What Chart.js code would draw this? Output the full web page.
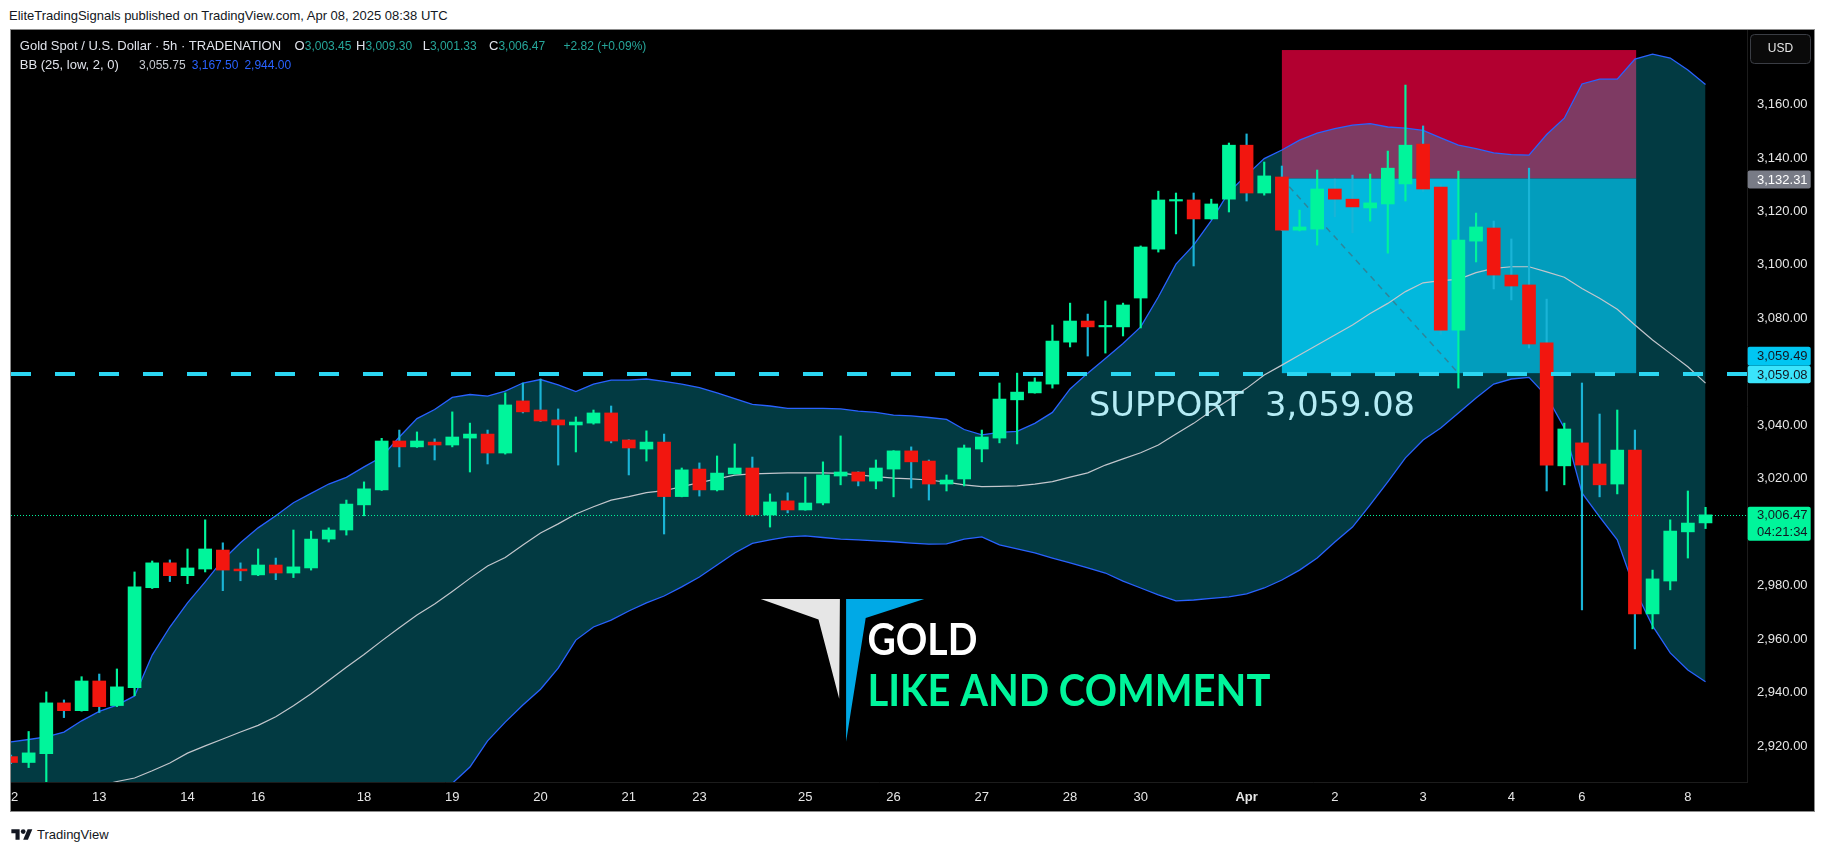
<!DOCTYPE html>
<html>
<head>
<meta charset="utf-8">
<title>Gold Spot / U.S. Dollar 5h</title>
<script src="https://cdn.jsdelivr.net/npm/chart.js@4.4.1/dist/chart.umd.min.js"></script>
<style>
  body { margin: 0; background: #fff; width: 1826px; height: 852px; position: relative; overflow: hidden; font-family: "Liberation Sans", Arial, sans-serif; }
  #header { position: absolute; left: 9px; top: 8px; font-size: 13px; line-height: 16px; color: #131722; }
  #frame { position: absolute; left: 10px; top: 29px; width: 1803px; height: 781px; border: 1px solid #8c8c8c; background: #000; }
  #footer { position: absolute; left: 11px; top: 826px; height: 16px; font-size: 13px; color: #131722; display: flex; align-items: center; }
  #footer svg { margin-right: 4px; }
</style>
</head>
<body>
<div id="header">EliteTradingSignals published on TradingView.com, Apr 08, 2025 08:38 UTC</div>
<div id="frame"><canvas id="goldChart" width="1803" height="781"></canvas></div>
<div id="footer">
  <svg width="22" height="13" viewBox="0 0 36 22"><path d="M14 20H7V9H0V2h14v18z" fill="#131722"/><circle cx="20" cy="6" r="4" fill="#131722"/><path d="M28 20h-8l7.5-18h8z" fill="#131722"/></svg>
  <span>TradingView</span>
</div>
<script>
// 5h candles, Mar 12 -> Apr 8 2025
const opens = [2916.0, 2913.8, 2917.1, 2936.1, 2933.2, 2944.3, 2935.1, 2941.8, 2979.2, 2988.5,
  2983.7, 2986.2, 2993.3, 2986.2, 2984.0, 2987.7, 2984.7, 2986.6, 2997.4, 3000.8,
  3010.2, 3015.8, 3034.1, 3031.9, 3033.7, 3032.6, 3035.2, 3036.7, 3029.6, 3049.1,
  3045.7, 3042.0, 3040.1, 3040.8, 3044.6, 3034.5, 3031.1, 3033.7, 3013.3, 3023.6,
  3015.8, 3021.8, 3024.0, 3006.4, 3011.7, 3008.3, 3010.9, 3021.0, 3022.5, 3019.1,
  3023.6, 3030.4, 3026.6, 3018.0, 3019.9, 3031.1, 3035.2, 3049.5, 3052.1, 3055.4,
  3071.1, 3079.0, 3076.8, 3076.8, 3087.6, 3105.9, 3123.9, 3124.3, 3117.2, 3124.6,
  3144.8, 3126.9, 3132.9, 3113.0, 3113.4, 3128.4, 3124.6, 3121.3, 3122.8, 3130.3,
  3145.2, 3129.1, 3075.6, 3108.9, 3113.8, 3096.2, 3092.5, 3070.8, 3024.8, 3033.4,
  3025.5, 3018.0, 3030.7, 2969.4, 2981.7, 3000.1, 3003.45];
const highs = [2916.6, 2925.4, 2940.2, 2937.2, 2945.9, 2946.9, 2948.8, 2985.1, 2989.2, 2989.6,
  2993.7, 3004.6, 2996.0, 2988.5, 2993.7, 2990.3, 3000.8, 3000.4, 3001.6, 3012.0,
  3018.8, 3035.1, 3038.2, 3037.5, 3034.9, 3045.0, 3040.8, 3038.2, 3052.1, 3055.8,
  3057.3, 3046.1, 3043.1, 3045.7, 3047.2, 3034.6, 3037.9, 3036.7, 3024.0, 3025.9,
  3028.5, 3033.0, 3028.1, 3014.3, 3014.7, 3020.6, 3026.3, 3036.0, 3022.6, 3027.0,
  3030.5, 3031.9, 3027.0, 3021.4, 3032.6, 3038.2, 3055.8, 3059.5, 3057.7, 3077.5,
  3085.7, 3081.6, 3086.5, 3085.7, 3107.1, 3127.6, 3126.9, 3126.9, 3124.6, 3145.6,
  3149.0, 3138.5, 3137.0, 3120.5, 3135.5, 3132.1, 3133.6, 3134.0, 3142.6, 3167.3,
  3152.0, 3130.0, 3135.1, 3119.4, 3116.4, 3109.7, 3136.2, 3087.2, 3040.8, 3055.8,
  3044.2, 3045.7, 3038.2, 2985.8, 3004.6, 3015.4, 3009.30];
const lows = [2913.4, 2911.9, 2905.0, 2930.6, 2933.0, 2932.5, 2934.7, 2938.8, 2978.9, 2981.5,
  2980.7, 2985.1, 2978.1, 2981.8, 2983.7, 2982.2, 2983.0, 2985.8, 2996.3, 2998.9,
  3006.1, 3015.6, 3024.4, 3031.7, 3027.0, 3031.9, 3022.5, 3025.5, 3029.2, 3044.6,
  3041.4, 3025.1, 3030.0, 3040.4, 3033.4, 3021.4, 3026.6, 2999.3, 3013.2, 3013.5,
  3015.4, 3021.7, 3006.0, 3001.9, 3007.2, 3008.2, 3010.2, 3017.7, 3017.3, 3016.2,
  3013.2, 3016.5, 3012.0, 3015.4, 3017.3, 3026.3, 3033.4, 3033.0, 3052.0, 3053.9,
  3069.3, 3065.9, 3067.0, 3073.4, 3076.4, 3104.8, 3111.6, 3099.6, 3117.1, 3119.8,
  3123.9, 3126.1, 3112.9, 3112.7, 3107.4, 3118.0, 3112.0, 3116.4, 3104.4, 3123.9,
  3127.5, 3074.0, 3053.9, 3101.1, 3091.0, 3086.9, 3068.9, 3015.4, 3017.7, 2970.9,
  3013.2, 3014.3, 2956.3, 2963.8, 2978.4, 2990.3, 3001.33];
const closes = [2913.8, 2917.4, 2936.1, 2933.2, 2944.3, 2934.7, 2942.1, 2979.5, 2988.5, 2983.7,
  2986.6, 2993.7, 2985.8, 2985.5, 2987.7, 2984.7, 2987.0, 2997.4, 3000.8, 3010.5,
  3016.2, 3034.1, 3031.9, 3034.1, 3032.6, 3035.6, 3036.7, 3029.6, 3047.6, 3045.0,
  3041.6, 3040.1, 3041.2, 3044.6, 3034.1, 3031.5, 3033.7, 3013.3, 3023.3, 3015.8,
  3022.1, 3024.0, 3006.4, 3011.3, 3008.3, 3010.9, 3021.4, 3022.5, 3019.1, 3024.0,
  3030.4, 3026.3, 3018.0, 3019.5, 3031.5, 3035.6, 3049.8, 3052.4, 3056.2, 3071.5,
  3079.0, 3076.8, 3077.2, 3085.0, 3106.7, 3124.3, 3124.3, 3117.2, 3122.8, 3144.8,
  3126.9, 3133.3, 3113.0, 3114.2, 3128.4, 3124.6, 3121.7, 3123.2, 3136.2, 3144.8,
  3128.4, 3075.6, 3109.3, 3114.2, 3096.2, 3092.1, 3070.4, 3025.1, 3038.6, 3025.1,
  3017.7, 3030.7, 2969.4, 2982.5, 3000.4, 3003.4, 3006.47];

// BB (25, low, 2, 0)
const bbUpper = [2921.5, 2922.4, 2923.4, 2925.2, 2929.4, 2932.9, 2935.3, 2938.7, 2954.0, 2964.5,
  2973.5, 2981.4, 2989.6, 2996.0, 3001.6, 3006.1, 3011.0, 3014.5, 3018.0, 3020.5,
  3024.4, 3028.1, 3035.6, 3042.5, 3045.9, 3050.4, 3051.5, 3050.9, 3052.8, 3055.8,
  3057.1, 3055.1, 3052.6, 3055.4, 3056.9, 3056.9, 3057.3, 3056.4, 3055.4, 3054.1,
  3052.1, 3050.0, 3047.8, 3047.2, 3046.3, 3046.3, 3046.3, 3046.1, 3045.3, 3044.8,
  3043.8, 3043.5, 3042.9, 3042.2, 3038.4, 3036.4, 3037.3, 3037.7, 3040.7, 3044.8,
  3053.6, 3059.5, 3065.0, 3070.6, 3076.8, 3088.0, 3100.3, 3107.4, 3116.6, 3127.3,
  3133.6, 3139.8, 3143.0, 3146.7, 3149.3, 3151.0, 3152.3, 3152.9, 3151.6, 3151.2,
  3150.3, 3147.5, 3144.8, 3143.5, 3141.9, 3141.3, 3141.1, 3148.8, 3154.9, 3167.7,
  3169.5, 3169.5, 3177.0, 3178.9, 3177.4, 3172.9, 3167.5];
const bbMiddle = [2898.0, 2899.0, 2900.5, 2902.0, 2903.5, 2905.0, 2906.7, 2908.0, 2910.7, 2913.6,
  2917.3, 2920.0, 2922.6, 2925.2, 2927.7, 2930.9, 2935.0, 2939.5, 2944.5, 2949.4,
  2954.2, 2959.3, 2964.2, 2969.0, 2973.1, 2977.8, 2982.7, 2987.3, 2990.5, 2995.2,
  2999.7, 3003.1, 3006.8, 3009.5, 3012.0, 3013.3, 3014.8, 3015.5, 3017.0, 3018.5,
  3019.9, 3021.3, 3021.8, 3022.0, 3022.2, 3022.2, 3022.2, 3022.0, 3021.4, 3020.8,
  3020.2, 3019.9, 3019.5, 3018.7, 3017.7, 3017.0, 3017.1, 3017.3, 3018.0, 3018.9,
  3020.6, 3022.2, 3025.1, 3027.4, 3029.7, 3032.6, 3036.7, 3040.7, 3045.3, 3049.5,
  3053.8, 3058.8, 3062.5, 3066.3, 3070.0, 3073.8, 3077.5, 3081.8, 3085.6, 3090.0,
  3093.3, 3094.1, 3094.6, 3097.1, 3098.7, 3099.3, 3099.3, 3097.4, 3095.4, 3091.2,
  3087.5, 3083.4, 3077.5, 3071.9, 3066.9, 3061.9, 3055.75];
const bbLower = [2874.5, 2875.6, 2877.6, 2878.8, 2877.6, 2877.1, 2878.1, 2877.3, 2867.4, 2862.7,
  2861.1, 2858.6, 2855.6, 2854.4, 2853.8, 2855.7, 2859.0, 2864.5, 2871.0, 2878.3,
  2884.0, 2890.5, 2892.8, 2895.5, 2900.3, 2906.0, 2912.1, 2921.9, 2928.9, 2935.3,
  2941.2, 2949.1, 2959.6, 2964.5, 2967.1, 2970.5, 2973.5, 2976.1, 2979.5, 2983.2,
  2987.7, 2992.2, 2995.8, 2997.1, 2998.2, 2998.6, 2998.0, 2997.4, 2997.1, 2996.7,
  2996.4, 2995.9, 2995.5, 2995.6, 2997.4, 2998.2, 2995.2, 2993.7, 2992.2, 2990.3,
  2988.5, 2986.6, 2984.7, 2981.7, 2979.1, 2976.5, 2974.3, 2974.6, 2975.2, 2975.8,
  2976.9, 2979.1, 2982.1, 2985.8, 2990.3, 2996.3, 3001.9, 3010.2, 3018.8, 3027.8,
  3034.5, 3039.0, 3044.6, 3050.2, 3055.4, 3057.3, 3057.9, 3050.9, 3039.0, 3014.7,
  3005.7, 2997.1, 2978.4, 2964.9, 2954.8, 2948.4, 2944.0];

const xTickIdx = [0, 5, 10, 14, 20, 25, 30, 35, 39, 45, 50, 55, 60, 64, 70, 75, 80, 85, 89, 95];
const xTickLabels = ["12", "13", "14", "16", "18", "19", "20", "21", "23", "25", "26", "27", "28", "30", "Apr", "2", "3", "4", "6", "8"];
const yTicks = [2920, 2940, 2960, 2980, 3000, 3020, 3040, 3060, 3080, 3100, 3120, 3140, 3160];

// short position drawing + support level
const posStartIdx = 72;
const posExitIdx = 82;
const posEndIdx = 92.07;
const posStop = 3180.4;
const posEntry = 3132.31;
const posTarget = 3059.49;
const supportLevel = 3059.08;
const lastPrice = 3006.47;
const countdown = "04:21:34";

const green = '#00f59b';
const red = '#f2160f';
const redWick = '#1ab4d6';
const fmt = v => v.toLocaleString('en-US', { minimumFractionDigits: 2, maximumFractionDigits: 2 });

const idx = opens.map((_, i) => i);
const isUp = i => closes[i] >= opens[i];

function fitText(ctx, text, x, y, width) {
  const w = ctx.measureText(text).width;
  ctx.save();
  ctx.translate(x, y);
  ctx.scale(width / w, 1);
  ctx.fillText(text, 0, 0);
  ctx.restore();
}

const positionTool = {
  id: 'positionTool',
  beforeDatasetsDraw(chart) {
    const { ctx, chartArea, scales: { x, y } } = chart;
    const x0 = x.getPixelForValue(posStartIdx);
    const xe = x.getPixelForValue(posExitIdx);
    const x1 = x.getPixelForValue(posEndIdx);
    const yS = y.getPixelForValue(posStop);
    const yE = y.getPixelForValue(posEntry);
    const yT = y.getPixelForValue(posTarget);
    ctx.save();
    ctx.beginPath();
    ctx.rect(chartArea.left, chartArea.top, chartArea.width, chartArea.height);
    ctx.clip();
    ctx.fillStyle = '#b20030';
    ctx.fillRect(x0, yS, x1 - x0, yE - yS);
    ctx.fillStyle = '#00b5df';
    ctx.fillRect(x0, yE, xe - x0, yT - yE);
    ctx.fillStyle = '#008fb0';
    ctx.fillRect(xe, yE, x1 - xe, yT - yE);
    ctx.strokeStyle = 'rgba(70,100,115,0.9)';
    ctx.lineWidth = 1.5;
    ctx.setLineDash([6, 5]);
    ctx.beginPath();
    ctx.moveTo(x0, yE);
    ctx.lineTo(xe, yT);
    ctx.stroke();
    ctx.restore();
  }
};

const overlay = {
  id: 'overlay',
  afterDatasetsDraw(chart) {
    const { ctx, chartArea, scales: { y } } = chart;
    ctx.save();
    ctx.beginPath();
    ctx.rect(chartArea.left, chartArea.top, chartArea.width, chartArea.height);
    ctx.clip();

    // support line
    const ySup = Math.round(y.getPixelForValue(supportLevel));
    ctx.strokeStyle = '#2bd6f2';
    ctx.lineWidth = 4;
    ctx.setLineDash([20, 24]);
    ctx.beginPath();
    ctx.moveTo(chartArea.left, ySup);
    ctx.lineTo(chartArea.right, ySup);
    ctx.stroke();

    // last price
    const yLast = Math.round(y.getPixelForValue(lastPrice)) + 0.5;
    ctx.strokeStyle = green;
    ctx.lineWidth = 1;
    ctx.setLineDash([1, 2]);
    ctx.beginPath();
    ctx.moveTo(chartArea.left, yLast);
    ctx.lineTo(chartArea.right, yLast);
    ctx.stroke();
    ctx.setLineDash([]);

    ctx.fillStyle = '#b5ecf5';
    ctx.font = '34px "DejaVu Sans"';
    ctx.textBaseline = 'alphabetic';
    fitText(ctx, 'SUPPORT  3,059.08', 1078, 386, 326);

    // logo
    ctx.fillStyle = '#e6e6e6';
    ctx.beginPath();
    ctx.moveTo(749.7, 568.9); ctx.lineTo(828.9, 568.9); ctx.lineTo(828.2, 668.8); ctx.lineTo(807.5, 589.6);
    ctx.closePath();
    ctx.fill();
    ctx.fillStyle = '#00a9e6';
    ctx.beginPath();
    ctx.moveTo(835.1, 568.9); ctx.lineTo(913.2, 568.9); ctx.lineTo(854.7, 587.9); ctx.lineTo(835.1, 711.8);
    ctx.closePath();
    ctx.fill();
    ctx.fillStyle = '#ffffff';
    ctx.font = 'bold 43px Lato';
    fitText(ctx, 'GOLD', 856.4, 625, 110);
    ctx.fillStyle = green;
    ctx.font = 'bold 43px Lato';
    fitText(ctx, 'LIKE AND COMMENT', 856.4, 675.7, 403);
    ctx.restore();

    // legend
    ctx.save();
    ctx.textBaseline = 'middle';
    const seg = (t, x, yy, c, size) => {
      ctx.font = size + 'px "Liberation Sans"';
      ctx.fillStyle = c;
      ctx.fillText(t, x, yy);
      return x + ctx.measureText(t).width;
    };
    const w = '#e0e3eb', teal = '#26a69a';
    const last = opens.length - 1;
    seg('Gold Spot / U.S. Dollar \u00b7 5h \u00b7 TRADENATION', 8.8, 16.6, w, 13);
    seg(fmt(opens[last]), seg('O', 283.6, 16.6, w, 13), 16.6, teal, 12);
    seg(fmt(highs[last]), seg('H', 345, 16.6, w, 13), 16.6, teal, 12);
    seg(fmt(lows[last]), seg('L', 411.7, 16.6, w, 13), 16.6, teal, 12);
    seg(fmt(lastPrice), seg('C', 478, 16.6, w, 13), 16.6, teal, 12);
    seg('+2.82 (+0.09%)', 552.6, 16.6, teal, 12);
    seg('BB (25, low, 2, 0)', 8.8, 35.2, w, 13);
    let bx = seg(fmt(bbMiddle[last]), 128, 35.2, '#c8cbd2', 12);
    bx = seg(fmt(bbUpper[last]), bx + 6, 35.2, '#2962ff', 12);
    seg(fmt(bbLower[last]), bx + 6, 35.2, '#2962ff', 12);
    ctx.restore();
  },
  afterDraw(chart) {
    const { ctx, chartArea, scales: { y } } = chart;
    const bx = chartArea.right + 0.7, bw = 63, tx = chartArea.right + 10;
    ctx.save();
    ctx.font = '13px "Liberation Sans"';
    ctx.textBaseline = 'middle';
    const box = (top, h, bg, lines, fg) => {
      ctx.fillStyle = bg;
      ctx.beginPath();
      ctx.roundRect(bx, top, bw, h, 2);
      ctx.fill();
      ctx.fillStyle = fg;
      lines.forEach((t, k) => ctx.fillText(t, tx, top + h / lines.length * (k + 0.5) + 0.5));
    };
    const yEntry = y.getPixelForValue(posEntry);
    box(yEntry - 8, 18, '#787b86', [fmt(posEntry)], '#ffffff');
    const ySup = y.getPixelForValue(supportLevel);
    box(ySup - 8.5, 17.5, '#3ae4fb', [fmt(supportLevel)], '#131722');
    box(ySup - 27.5, 19, '#00c6f2', [fmt(posTarget)], '#131722');
    const yLast = y.getPixelForValue(lastPrice);
    box(yLast - 8.2, 34, green, [fmt(lastPrice), countdown], '#131722');

    // currency button
    ctx.strokeStyle = '#3a3d44';
    ctx.fillStyle = '#0a0a0a';
    ctx.lineWidth = 1;
    ctx.beginPath();
    ctx.roundRect(chartArea.right + 3.5, 4.5, 60, 29, 4);
    ctx.fill();
    ctx.stroke();
    ctx.fillStyle = '#e6e6e6';
    ctx.font = '12px "Liberation Sans"';
    ctx.textAlign = 'center';
    ctx.fillText('USD', chartArea.right + 33.5, 19);
    ctx.restore();
  }
};

const ctx = document.getElementById('goldChart').getContext('2d');

new Chart(ctx, {
  type: 'bar',
  data: {
    datasets: [
      {
        type: 'line',
        data: bbUpper.map((v, i) => ({ x: i, y: v })),
        borderColor: '#2962ff',
        borderWidth: 1.3,
        pointRadius: 0,
        fill: 2,
        backgroundColor: 'rgba(7,193,220,0.3)',
        order: 6
      },
      {
        type: 'line',
        data: bbMiddle.map((v, i) => ({ x: i, y: v })),
        borderColor: '#c3c6cc',
        borderWidth: 1.2,
        pointRadius: 0,
        fill: false,
        order: 4
      },
      {
        type: 'line',
        data: bbLower.map((v, i) => ({ x: i, y: v })),
        borderColor: '#2962ff',
        borderWidth: 1.3,
        pointRadius: 0,
        fill: false,
        order: 5
      },
      {
        data: idx.map(i => ({ x: i, y: [lows[i], highs[i]] })),
        backgroundColor: idx.map(i => isUp(i) ? green : redWick),
        barThickness: 1.5,
        grouped: false,
        order: 2
      },
      {
        data: idx.map(i => ({ x: i, y: [opens[i], closes[i]] })),
        backgroundColor: idx.map(i => isUp(i) ? green : red),
        barThickness: 13,
        minBarLength: 1.5,
        grouped: false,
        order: 1
      }
    ]
  },
  options: {
    responsive: false,
    animation: false,
    devicePixelRatio: 1,
    layout: { padding: 0 },
    plugins: {
      legend: { display: false },
      tooltip: { enabled: false }
    },
    scales: {
      x: {
        type: 'linear',
        min: 0,
        max: 98.35,
        offset: false,
        grid: { display: false, drawTicks: false },
        border: { display: true, color: '#1c1c1c' },
        afterBuildTicks: s => { s.ticks = xTickIdx.map(v => ({ value: v })); },
        afterFit: s => { s.height = 29; s.paddingLeft = 0; s.paddingRight = 0; },
        ticks: {
          autoSkip: false,
          maxRotation: 0,
          padding: 8,
          color: '#e6e6e6',
          font: c => ({ family: 'Liberation Sans', size: 13, weight: c.index === 14 ? 'bold' : 'normal' }),
          callback: (v, i) => xTickLabels[i]
        }
      },
      y: {
        type: 'linear',
        position: 'right',
        min: 2906.5,
        max: 3187.9,
        grid: { display: false, drawTicks: false },
        border: { display: true, color: '#1c1c1c' },
        afterBuildTicks: s => { s.ticks = yTicks.map(v => ({ value: v })); },
        afterFit: s => { s.width = 67; s.paddingTop = 0; s.paddingBottom = 0; },
        ticks: {
          padding: 10,
          color: '#e6e6e6',
          font: { family: 'Liberation Sans', size: 13 },
          callback: v => fmt(v)
        }
      }
    }
  },
  plugins: [positionTool, overlay]
});
</script>
</body>
</html>
